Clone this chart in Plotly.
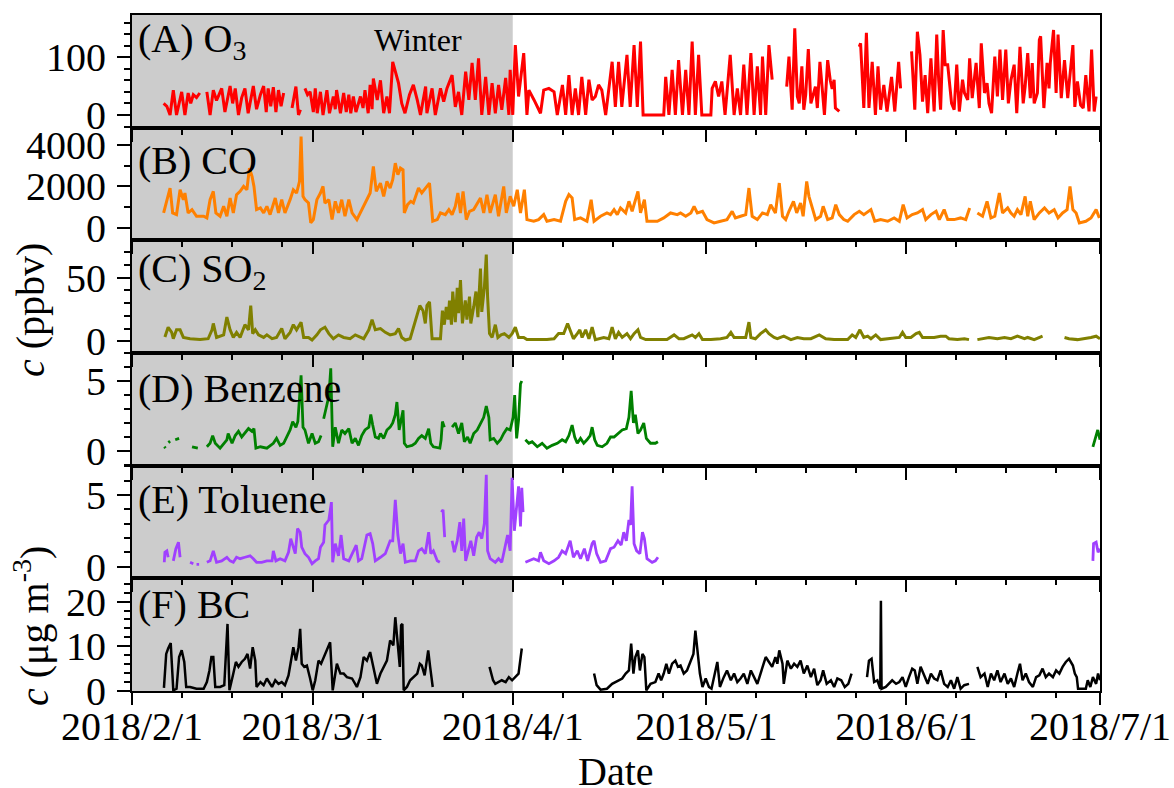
import pandas as pd
import plotly.graph_objects as go
from plotly.subplots import make_subplots

START = pd.Timestamp("2018-02-01")
END = pd.Timestamp("2018-07-01")
WINTER_END = pd.Timestamp("2018-04-01")

# (days since 2018-02-01, concentration); None marks missing data
o3 = [(4.9,20),(5.4,15),(5.9,0),(6.4,43),(6.9,0),(7.7,40),(8.2,0),(8.7,38),(9.1,20),(9.5,35),(10.0,30),(10.5,38),
      (11.0,None),
      (11.6,40),(12.1,0),(12.6,43),(13.1,25),(13.9,46),(14.4,5),(15.2,50),(15.6,20),(16.0,46),(16.5,0),(17.0,30),(17.5,46),
      (18.0,3),(18.8,50),(19.3,10),(19.9,35),(20.4,50),(20.8,5),(21.1,46),(21.5,15),(21.9,48),(22.3,5),(22.7,43),(23.1,15),(23.5,38),
      (24.0,None),
      (24.8,12),(25.4,49),(25.8,0),(26.1,9),
      (26.5,None),
      (26.8,46),(27.2,35),(27.6,40),(28.1,5),(28.4,46),(28.7,3),(29.2,40),(29.6,0),(30.2,43),(30.6,3),(31.2,32),(31.5,10),
      (31.7,43),(32.3,3),(32.8,38),(33.2,5),(33.6,35),(33.9,3),(34.3,32),(34.7,5),(35.4,32),(35.8,12),(36.1,43),(36.6,3),
      (36.9,52),(37.2,10),(37.4,63),(38.0,26),(38.5,60),(39.0,3),(39.5,32),(39.9,3),(40.4,92),(41.3,55),(41.8,20),(42.3,3),
      (43.0,35),(43.6,52),(44.2,26),(44.7,0),(45.5,49),(45.7,3),(46.5,46),(47.0,0),(47.8,46),(48.3,23),(48.8,46),(49.6,69),
      (50.1,14),(50.6,40),(51.1,0),(51.7,75),(52.2,26),(52.7,90),(53.2,26),(53.7,98),(54.2,0),(54.8,66),(55.3,0),(55.8,55),
      (56.3,3),(56.8,52),(57.3,9),(57.9,64),(58.4,0),(58.6,78),(59.0,0),(59.4,121),(59.9,32),(60.7,107),(61.2,0),(61.5,43),
      (62.3,26),(62.8,14),(63.3,3),(63.8,43),(64.6,46),(65.4,40),(65.9,0),(66.7,52),(67.2,0),(67.7,69),(68.2,0),(68.7,46),
      (69.2,0),(69.7,66),(70.3,0),(70.8,61),(71.3,26),(71.8,32),(72.3,52),(72.8,43),(73.4,0),(74.4,92),(74.9,14),(75.4,92),
      (75.9,14),(76.7,104),(77.2,14),(77.8,121),(78.3,14),(78.8,127),(79.2,0),(82.4,0),(82.7,66),(83.2,0),(83.7,78),(84.2,0),
      (84.7,95),(85.3,0),(85.8,78),(86.3,0),(86.8,127),(87.3,0),(87.8,104),(88.3,0),(89.7,0),(89.9,46),(90.4,58),(90.9,32),
      (91.4,58),(91.9,0),(92.7,104),(93.3,0),(93.8,46),(94.3,0),(94.8,87),(95.3,0),(95.9,107),(96.4,0),(96.9,84),(97.4,0),
      (97.7,101),(98.2,0),(98.7,121),(99.2,61),
      (99.6,None),
      (101.45,49),(101.8,101),(102.3,9),(102.7,150),(103.1,32),(103.4,20),(103.8,84),(104.1,9),(104.4,35),(104.8,114),
      (105.2,20),(105.9,49),(106.2,12),(106.6,92),(107.0,40),(107.3,0),(107.8,95),(108.2,60),(108.5,45),(108.8,61),(109.0,12),(109.6,6),
      (110.5,None),
      (112.7,118),(112.9,124),(113.4,12),(113.8,142),(114.2,12),(114.7,92),(115.2,0),(115.6,84),(116.0,9),(116.5,52),
      (117.0,6),(117.7,66),(118.2,6),(118.8,92),(119.1,46),
      (119.8,None),
      (120.8,110),(121.3,9),(121.7,144),(122.1,104),(122.5,23),(122.9,69),(123.3,3),(123.8,98),(124.3,6),(124.7,139),
      (125.0,60),(125.3,9),(125.7,147),(126.0,87),(126.4,87),(127.0,20),(127.4,9),(127.8,87),(128.2,6),(128.7,61),(129.0,38),
      (129.5,26),(129.8,98),(130.2,29),(130.8,90),(131.3,12),(131.6,124),(132.1,38),(132.5,55),(132.8,20),(133.2,3),(133.7,101),
      (134.1,32),(134.5,113),(134.9,26),(135.4,113),(135.8,20),(136.2,60),(136.7,87),(137.1,3),(137.3,46),(137.6,118),(138.1,20),
      (138.4,49),(138.8,107),(139.2,29),(139.5,90),(139.8,20),(140.3,38),(140.6,130),(140.8,136),(141.3,12),(141.8,90),(142.1,46),
      (142.3,90),(142.8,147),(143.2,38),(143.5,139),(144.0,29),(144.5,95),(145.0,29),(145.4,78),(145.8,121),(146.1,14),(146.5,58),
      (147.0,17),(147.4,12),(147.8,69),(148.3,6),(148.7,113),(149.1,6),(149.4,32)]

co = [(4.9,720),(5.4,1360),(5.9,1920),(6.3,720),(6.9,640),(7.45,1840),(7.96,1360),(8.2,1680),(8.7,720),(9.3,880),(10.0,560),
      (11.1,560),(11.6,480),(12.1,1360),(12.6,1760),(13.0,720),(13.65,560),(14.2,1040),(14.7,560),(15.2,1440),(15.7,720),
      (16.2,1600),(16.75,1760),(17.3,2000),(17.8,1840),(18.2,2880),(18.6,2480),(18.9,2000),(19.3,880),(19.9,960),(20.4,720),
      (20.9,1040),(21.4,640),(22.2,1440),(22.7,720),(23.2,1360),(23.7,720),(24.5,1360),(25.0,1840),(25.5,1680),(25.96,2240),
      (26.2,4400),(26.5,1520),(26.8,1360),(27.35,1200),(27.7,240),(28.1,400),(28.65,1360),(29.2,1680),(29.6,2000),(29.9,1200),
      (30.5,1360),(31.0,400),(31.5,1280),(32.0,720),(32.5,1360),(33.0,560),(33.6,1360),(34.1,720),(34.85,400),(35.6,880),
      (36.4,1440),(36.9,1680),(37.4,2960),(37.85,1760),(38.5,2160),(39.0,1520),(39.5,2240),(40.0,1920),(40.4,2320),(40.8,3120),
      (41.2,2560),(41.6,2880),(42.0,2800),(42.2,720),(42.7,1120),(43.2,1280),(43.6,1200),(44.4,1920),(44.9,1680),(45.45,1920),
      (46.1,2160),(46.6,320),(47.3,400),(47.8,720),(48.55,640),(49.1,880),(49.6,640),(50.1,1040),(50.5,1680),(50.9,720),
      (51.3,1760),(51.8,400),(52.3,800),(52.95,880),(53.5,1200),(54.0,1440),(54.5,720),(55.0,1600),(55.5,720),(56.3,1600),
      (56.8,560),(57.6,2000),(58.0,720),(58.6,1520),(59.15,1040),(59.7,1840),(60.2,720),(60.8,1840),(61.2,400),(62.25,320),
      (63.0,400),(63.8,640),(64.3,320),(65.4,400),(66.4,320),(67.2,1280),(67.7,1600),(68.2,1440),(68.6,400),(69.5,480),
      (70.5,320),(71.15,1360),(71.6,320),(72.6,560),(73.6,720),(74.15,640),(74.7,880),(75.2,640),(75.7,960),(76.5,720),
      (77.0,1280),(77.5,800),(78.4,1760),(78.8,720),(79.4,1360),(79.8,320),(81.4,320),(82.4,480),(83.45,720),(84.5,640),
      (85.0,720),(85.8,560),(86.6,720),(87.1,1040),(87.6,720),(88.4,800),(89.1,400),(90.2,240),(91.2,320),(92.2,400),
      (93.0,800),(93.5,480),(94.3,560),(95.1,640),(95.6,1920),(96.1,560),(96.9,400),(97.7,720),(98.45,640),(98.97,1120),
      (99.7,720),(100.3,2160),(100.8,560),(101.3,400),(101.8,800),(102.5,1280),(103.0,720),(103.6,1200),(104.0,560),
      (104.55,2240),(104.9,1520),(105.4,1040),(105.95,400),(106.7,560),(107.1,1040),(107.8,400),(108.5,480),(109.05,1120),
      (109.6,640),(110.3,400),(110.9,320),(111.9,640),(112.7,800),(113.4,640),(114.5,880),(115.1,320),(116.0,400),(117.1,320),
      (118.1,480),(118.9,320),(119.5,1120),(120.1,480),(120.9,640),(121.7,720),(122.5,880),(123.0,400),(123.8,640),(124.6,800),
      (125.1,400),(125.85,880),(126.4,400),(127.4,400),(128.4,480),(129.2,400),(129.8,960),
      (130.3,None),
      (131.0,720),(131.8,560),(132.5,1280),(133.1,480),(133.7,560),(134.4,1680),(134.9,720),(135.7,960),(136.2,720),
      (136.7,560),(137.2,880),(137.75,640),(138.4,1520),(138.8,560),(139.2,1280),(139.8,400),(140.6,720),(141.4,960),
      (142.1,720),(142.9,880),(143.5,480),(144.2,720),(144.9,880),(145.35,2000),(145.8,880),(146.3,720),(146.8,240),
      (147.8,320),(148.6,480),(149.4,880),(149.9,480)]

so2 = [(5.1,3.4),(5.6,11),(6.15,7),(6.4,2),(6.9,9),(7.45,9),(7.96,3),(9.0,2),(10.55,1.3),(11.8,2),(12.4,9),(12.6,14),
       (13.1,3),(14.2,5),(14.7,19),(15.2,9),(15.7,3),(16.2,7),(16.75,3),(17.5,13),(18.05,9),(18.4,28),(18.7,6),(19.1,9),
       (19.6,5),(20.4,3),(20.9,5),(21.7,2),(22.4,3),(23.2,10),(23.7,2),(24.5,7),(25.0,13),(25.5,9),(26.2,15),(26.6,3),
       (27.35,3),(27.9,1),(28.65,5),(29.2,9),(29.9,11),(30.5,6),(31.2,2),(32.0,5),(32.8,3),(33.8,2),(34.6,5),(35.4,3),
       (35.9,2),(36.7,9),(37.2,17),(37.7,9),(38.5,10),(39.25,7),(40.0,5),(40.8,6),(41.3,10),(41.8,3),(42.35,1),(43.1,2),
       (43.6,11),(44.2,22),(44.6,28),(45.1,24),(45.45,14),(45.7,28),(46.1,31),(46.5,2),(47.8,2),(48.1,24),(48.4,13),
       (48.7,27),(49.0,17),(49.2,32),(49.5,13),(49.7,39),(50.1,15),(50.4,42),(50.6,22),(50.9,48),(51.2,14),(51.65,32),
       (51.9,17),(52.3,35),(52.5,14),(52.95,27),(53.3,39),(53.6,19),(54.0,57),(54.2,23),(54.6,42),(54.9,68),(55.1,35),
       (55.4,6),(55.8,3),(56.3,13),(56.7,3),(57.2,5),(57.7,6),(58.4,3),(58.9,6),(59.4,11),(59.9,3),(60.7,3),(61.2,1.3),
       (64.3,1.3),(65.4,2),(66.1,6),(66.9,6),(67.5,14),(67.9,9),(68.4,2),(69.0,6),(69.4,9),(69.75,3),(70.3,9),(70.8,2),
       (71.3,11),(71.8,1.3),(73.1,3),(73.9,2),(74.4,11),(74.9,2),(75.4,7),(75.96,3),(76.7,6),(77.25,2),(77.8,6),(78.4,9),
       (78.8,3),(79.6,1.3),(82.9,1.3),(84.0,5),(84.75,2),(85.5,2),(86.3,4),(86.8,5),(87.3,3),(87.85,6),(88.4,1.3),
       (89.7,1.3),(91.2,2),(92.2,3),(92.8,7),(93.3,3),(94.3,3),(95.1,3),(95.6,15),(95.9,3),(96.6,2),(97.4,6),(98.2,9),
       (98.7,6),(99.5,3),(100.0,2),(101.0,4),(102.1,1.3),(103.1,3),(104.1,2),(105.2,2),(106.5,5),(107.5,2),(108.8,1.3),
       (110.9,1.3),(111.6,5),(112.15,3),(112.8,9),(113.4,3),(114.0,4),(114.5,2),(115.25,5),(116.0,1.3),(117.1,2),(118.1,3),
       (118.9,3),(119.4,7),(119.9,3),(120.7,3),(121.5,6),(122.0,7),(122.5,3),(123.3,3),(124.3,3),(125.3,4),(126.1,4),
       (126.6,2),(127.9,1.3),(129.0,2),(129.7,1.3),
       (130.2,None),
       (131.0,1.3),(132.1,2),(132.8,3),(134.1,2),(135.2,3),(136.2,2),(137.2,4),(138.3,2),(138.8,3),(139.8,1.3),(140.6,3),(141.1,4),
       (142.0,None),
       (144.5,3),(145.2,2),(146.5,1.3),(147.8,2),(148.6,3),(149.4,4),(150.0,2)]

benzene = [(5.0,0.3),(5.2,0.2),(5.4,None),(5.64,0.6),(5.9,0.7),(6.2,None),(6.7,0.8),(7.3,0.9),(8.0,None),(9.3,0.3),(10.2,0.2),
           (11.0,None),
           (11.6,0.3),(12.1,0.55),(12.5,1.1),(12.9,0.55),(13.65,0.2),(14.7,0.8),(14.9,1.25),(15.5,0.55),(16.0,1.1),(16.5,1.4),
           (17.0,1.0),(17.5,1.25),(18.05,1.6),(18.6,1.4),(18.9,1.6),(19.2,0.2),(19.9,0.3),(20.9,0.2),(21.9,0.55),(22.4,0.9),
           (22.96,0.4),(23.5,0.55),(24.1,1.1),(24.5,1.5),(24.9,2.1),(25.4,1.7),(25.7,2.1),(25.96,3.7),(26.2,5.4),(26.5,1.7),
           (26.8,1.5),(27.35,0.55),(27.9,1.25),(28.4,0.55),(28.9,0.66),(29.3,1.1),
           (29.5,None),
           (29.7,2.3),(30.1,3.2),(30.5,3.9),(30.8,5.9),(31.1,0.3),(31.5,1.7),(32.0,0.55),(32.5,1.5),(33.0,1.25),(33.6,1.6),
           (34.1,0.55),(34.6,0.9),(35.1,0.4),(35.6,1.1),(36.1,1.5),(36.7,1.7),(37.0,2.6),(37.3,1.85),(37.7,1.0),(38.2,0.9),
           (38.5,1.25),(39.0,0.9),(39.5,1.5),(40.0,1.7),(40.4,2.0),(40.8,2.6),(41.05,3.5),(41.4,1.5),(41.7,2.1),(42.0,2.9),
           (42.2,0.55),(42.6,0.3),(43.4,0.4),(43.9,0.55),(44.4,0.9),(44.9,1.1),(45.45,0.9),(45.97,1.6),(46.3,0.55),(46.7,0.3),
           (47.7,0.2),(47.9,0.8),(48.1,2.1),(48.4,1.7),
           (49.0,None),
           (49.6,1.7),(50.1,2.0),(50.6,1.25),(51.1,2.0),(51.5,0.66),(52.0,1.0),(52.4,0.55),(52.95,1.25),(53.5,1.5),(54.0,2.0),
           (54.5,2.4),(54.9,3.2),(55.3,2.4),(55.5,0.8),(56.05,0.9),(56.6,0.55),(57.1,0.8),(57.6,1.25),(58.1,1.6),(58.6,1.5),
           (59.05,2.4),(59.3,4.0),(59.6,0.9),(59.9,2.2),(60.2,4.8),(60.4,5.0),
           (60.7,None),
           (60.96,0.8),(61.5,0.55),(62.0,0.66),(62.8,0.3),(63.55,0.55),(64.3,0.2),(65.1,0.4),(65.9,0.55),(66.65,0.8),(67.2,0.66),
           (67.7,1.1),(68.2,1.85),(68.6,1.0),(69.0,0.55),(69.5,0.9),(70.0,0.55),(70.5,0.8),(71.0,1.1),(71.3,1.7),(71.7,0.8),
           (72.1,0.4),(72.85,0.3),(73.6,0.55),(74.15,1.0),(74.7,1.0),(75.3,1.25),(75.96,1.5),(76.6,1.6),(77.0,2.4),(77.35,4.3),
           (77.7,2.0),(78.0,2.6),(78.4,1.25),(78.8,1.5),(79.3,2.0),(79.7,0.9),(80.35,0.55),(81.1,0.55),(81.5,0.66),
           (82.0,None),
           (148.9,0.3),(149.4,1.0),(149.65,1.5),(150.0,0.8)]

toluene = [(5.0,0.3),(5.1,1.0),(5.4,1.1),(5.6,0.65),(6.0,None),(6.4,0.4),(6.8,1.25),(7.2,1.7),(7.45,0.65),(8.0,None),
           (9.0,0.3),(9.5,0.2),(9.8,None),(10.0,0.15),(10.4,0.15),
           (11.0,None),
           (11.6,0.3),(12.1,0.4),(12.6,1.1),(13.1,0.3),(13.9,0.4),(14.7,0.65),(15.2,0.4),(15.7,0.3),(16.2,0.65),(16.75,0.55),
           (17.5,0.65),(18.3,0.75),(18.8,0.55),(19.3,0.3),(20.1,0.3),(20.9,0.4),(21.7,0.4),(21.9,1.1),(22.3,0.4),(22.96,0.55),
           (23.7,0.4),(24.25,1.0),(24.6,1.95),(25.0,1.35),(25.3,0.9),(25.65,2.65),(26.06,2.4),(26.3,1.35),(26.8,0.9),(27.35,0.65),
           (27.9,0.2),(28.4,0.4),(28.9,0.55),(29.2,1.35),(29.7,1.7),(29.9,2.9),(30.5,3.25),(30.9,4.5),(31.1,0.3),(31.5,1.6),
           (32.0,0.75),(32.4,2.2),(32.8,0.55),(33.6,0.4),(34.1,0.9),(34.75,1.5),(35.1,0.4),(35.6,0.55),(36.4,2.2),(36.9,2.3),
           (37.3,1.6),(37.7,0.4),(38.5,0.65),(39.25,0.9),(40.0,1.8),(40.4,1.8),(40.8,4.65),(41.2,2.2),(41.6,0.9),(42.0,1.6),
           (42.35,0.3),(43.1,0.4),(43.9,0.4),(44.4,1.1),(44.9,1.25),(45.45,0.9),(45.97,2.4),(46.3,0.9),(46.7,1.1),(47.3,0.4),
           (47.7,0.3),(47.8,None),(47.93,3.8),(48.2,3.95),(48.45,2.05),
           (48.8,None),
           (49.6,1.8),(49.95,1.0),(50.4,1.8),(50.8,3.1),(51.1,1.1),(51.4,3.35),(51.7,0.4),(52.2,1.25),(52.5,1.8),(52.95,0.75),
           (53.4,2.05),(53.8,2.4),(54.2,1.95),(54.6,3.0),(54.9,6.4),(55.1,1.1),(55.5,0.55),(56.3,0.3),(56.8,0.55),(57.3,0.3),
           (57.9,1.5),(58.2,2.2),(58.6,1.1),(58.9,6.2),(59.25,2.5),(59.6,4.4),(59.9,5.6),(60.2,2.8),(60.4,5.5),(60.6,3.8),
           (60.8,None),
           (60.96,0.3),(61.5,0.4),(62.25,0.55),(63.0,0.4),(63.3,1.0),(63.8,0.4),(64.6,0.2),(65.4,0.4),(66.1,0.65),(66.65,1.1),
           (67.2,0.9),(67.9,1.8),(68.4,0.65),(69.0,1.1),(69.5,0.55),(70.1,1.25),(70.6,0.4),(71.3,1.6),(71.6,1.8),(72.0,0.9),
           (72.6,0.3),(73.4,0.4),(74.15,1.25),(74.7,1.35),(75.3,1.8),(75.8,1.5),(76.2,2.4),(76.6,1.8),(77.0,3.25),(77.25,2.9),
           (77.5,5.6),(77.8,1.6),(78.2,1.1),(78.7,0.9),(79.1,2.4),(79.4,1.95),(79.8,0.55),(80.6,0.3),(81.1,0.4),(81.5,0.65),
           (82.0,None),
           (148.9,0.4),(149.0,1.6),(149.4,1.7),(149.7,1.0),(150.0,1.25)]

bc = [(4.95,0.7),(5.3,8.3),(5.6,9.5),(6.0,10.7),(6.4,0.15),(6.9,0.5),(7.3,7.6),(7.7,9.1),(8.1,6.5),(8.4,0.9),(9.0,0.9),
      (10.0,0.5),(11.1,0.5),(11.6,2.0),(12.0,4.6),(12.3,7.6),(12.6,7.6),(12.9,0.9),(13.65,0.9),(14.3,1.3),(14.8,15.0),
      (15.1,0.15),(15.7,3.9),(16.1,6.5),(16.5,5.4),(17.0,6.5),(17.5,7.2),(17.9,8.3),(18.3,5.0),(18.7,9.8),(19.1,6.8),
      (19.3,0.9),(19.9,2.0),(20.4,1.3),(20.9,2.8),(21.7,0.9),(22.2,2.4),(22.7,1.6),(23.2,2.0),(23.7,1.3),(24.25,3.5),
      (24.6,6.1),(25.0,9.8),(25.4,6.8),(25.8,9.8),(26.06,13.9),(26.3,6.1),(26.7,5.4),(27.1,5.7),(27.6,2.8),(28.0,0.15),
      (28.4,2.4),(28.9,6.8),(29.3,6.1),(29.7,7.6),(30.2,9.1),(30.7,10.9),(31.1,0.15),(31.75,6.1),(32.3,3.9),(32.8,3.9),
      (33.3,3.1),(34.1,2.8),(34.85,0.9),(35.4,3.1),(35.9,7.6),(36.4,6.8),(36.9,8.7),(37.4,5.4),(37.95,1.6),(38.5,3.9),
      (39.0,5.4),(39.5,6.8),(40.0,11.3),(40.5,10.2),(40.8,16.5),(41.05,12.1),(41.5,5.4),(41.7,14.7),(41.9,15.0),(42.1,0.15),
      (42.6,0.9),(43.1,2.4),(43.6,3.1),(44.2,3.9),(44.6,6.1),(44.9,5.7),(45.35,3.5),(45.9,9.1),(46.2,5.4),(46.6,0.9),
      (47.0,None),
      (55.4,5.4),(55.95,2.4),(56.3,1.6),(56.8,2.0),(57.3,2.4),(57.9,2.0),(58.4,3.1),(58.9,2.4),(59.4,3.1),(59.9,3.9),(60.4,9.5),
      (61.0,None),
      (71.6,3.9),(72.0,1.3),(72.6,0.3),(73.6,0.5),(74.4,1.6),(74.9,2.0),(75.4,2.4),(75.96,2.8),(76.5,3.9),(77.0,4.6),
      (77.35,10.6),(77.7,3.9),(78.0,7.6),(78.4,9.1),(78.7,4.6),(79.1,8.3),(79.4,7.6),(79.7,0.15),(80.35,1.6),(81.1,2.0),
      (81.6,3.9),(82.0,2.4),(82.4,3.9),(82.8,6.1),(83.2,3.9),(83.7,6.1),(84.2,6.8),(84.6,5.4),(85.0,5.7),(85.5,3.9),
      (86.0,4.6),(86.6,6.8),(87.0,8.3),(87.3,13.5),(87.7,8.3),(88.0,3.9),(88.4,0.9),(88.9,2.8),(89.4,0.9),(89.8,0.5),
      (90.7,6.5),(91.1,0.9),(91.7,3.1),(92.2,4.6),(92.8,2.4),(93.3,3.9),(93.8,2.0),(94.3,2.8),(94.8,3.9),(95.35,1.6),
      (95.9,4.6),(96.4,3.1),(96.9,1.6),(97.4,3.9),(98.2,7.6),(98.7,6.5),(99.2,5.4),(99.7,7.6),(100.0,6.1),(100.3,9.1),
      (100.8,6.1),(101.0,1.6),(101.55,6.8),(102.1,5.0),(102.6,6.1),(103.1,5.4),(103.6,6.8),(104.1,3.9),(104.65,5.7),
      (105.2,3.1),(105.7,5.0),(106.2,1.3),(106.7,2.4),(107.1,4.6),(107.65,1.6),(108.3,2.4),(108.8,0.9),(109.3,2.8),
      (109.9,2.4),(110.45,0.9),(111.0,1.6),(111.5,3.9),
      (112.0,None),
      (113.9,3.1),(114.2,6.8),(114.6,7.2),(115.0,2.0),(115.5,2.4),(115.95,0.5),(116.05,20.2),(116.15,0.5),(116.8,0.9),
      (117.3,1.6),(117.8,2.4),(118.4,1.6),(118.9,2.0),(119.4,3.1),(119.9,0.9),(120.4,3.1),(120.9,5.0),(121.3,4.6),
      (121.7,1.6),(122.2,5.4),(122.75,3.5),(123.3,1.6),(123.8,3.9),(124.3,2.8),(124.8,2.4),(125.3,4.6),(125.85,1.6),
      (126.4,0.9),(126.9,2.4),(127.4,0.5),(127.9,3.1),(128.4,0.5),(128.96,1.3),(129.7,1.6),
      (130.3,None),
      (131.0,5.4),(131.5,3.1),(132.1,3.9),(132.6,0.9),(133.1,3.9),(133.6,2.4),(134.1,4.6),(134.6,2.0),(135.2,3.9),
      (135.7,1.6),(136.2,2.8),(136.7,0.9),(137.2,3.9),(137.6,6.1),(138.0,2.4),(138.5,3.9),(139.0,2.0),(139.6,0.9),
      (140.1,3.1),(140.6,3.5),(141.1,5.0),(141.6,3.1),(142.1,3.9),(142.7,3.1),(143.2,4.6),(143.7,3.9),(144.2,5.4),
      (144.7,6.5),(145.2,7.2),(145.8,5.7),(146.1,3.9),(146.4,3.1),(146.6,0.5),(147.8,0.5),(148.1,2.4),(148.5,0.9),
      (148.9,3.1),(149.4,1.6),(149.7,3.9),(150.0,2.4)]

# label, series, colour, line width, y range, major ticks, minor tick step
panels = [
    ("(A) O<sub>3</sub>", o3, "#ff0000", 3.0, [-22, 173], [0, 100], 20),
    ("(B) CO", co, "#ff8000", 3.0, [-600, 4830], [0, 2000, 4000], 1000),
    ("(C) SO<sub>2</sub>", so2, "#808000", 3.0, [-9.2, 79.2], [0, 50], 10),
    ("(D) Benzene", benzene, "#008000", 2.8, [-1.05, 7.0], [0, 5], 1),
    ("(E) Toluene", toluene, "#a040ff", 2.8, [-0.82, 7.04], [0, 5], 1),
    ("(F) BC", bc, "#000000", 2.5, [0, 25.2], [0, 10, 20], 2),
]

W, H = 1174, 788
ML, MR, MT, MB = 132, 74, 15, 97
FONT = "Liberation Serif"


def xp(px):
    return (px - ML) / (W - ML - MR)


def yp(py):
    return (H - MB - py) / (H - MT - MB)


months = list(pd.date_range(START, END, freq="MS"))
month_text = [f"{d.year}/{d.month}/{d.day}" for d in months]
minor_dates = [m + pd.Timedelta(days=7.75 * k) for m in months[:-1] for k in (1, 2, 3)]

fig = make_subplots(rows=6, cols=1, vertical_spacing=0)

for i, (label, series, color, lw, yrange, yticks, ydminor) in enumerate(panels, start=1):
    days = [d for d, _ in series]
    vals = [v for _, v in series]
    dates = [START + pd.Timedelta(days=d) for d in days]
    fig.add_trace(
        go.Scatter(x=dates, y=vals, mode="lines", line=dict(color=color, width=lw),
                   connectgaps=False, showlegend=False, hoverinfo="skip"),
        row=i, col=1,
    )
    fig.update_xaxes(
        row=i, col=1, type="date", range=[START, END],
        showline=True, linecolor="black", linewidth=2, mirror=True,
        ticks="outside", ticklen=12, tickwidth=2, tickcolor="black",
        tickmode="array", tickvals=months, ticktext=month_text,
        showticklabels=(i == 6), ticklabelstandoff=-13,
        showgrid=False, zeroline=False,
        tickfont=dict(family=FONT, size=40, color="black"),
        minor=dict(tickmode="array", tickvals=minor_dates, ticks="outside",
                   ticklen=5, tickwidth=2, tickcolor="black", showgrid=False),
    )
    fig.update_yaxes(
        row=i, col=1, range=yrange,
        showline=True, linecolor="black", linewidth=2, mirror=True,
        ticks="outside", ticklen=13, tickwidth=2, tickcolor="black",
        tickmode="array", tickvals=yticks, ticklabelstandoff=3,
        showgrid=False, zeroline=False,
        tickfont=dict(family=FONT, size=40, color="black"),
        minor=dict(dtick=ydminor, tick0=0, ticks="outside", ticklen=6,
                   tickwidth=2, tickcolor="black", showgrid=False),
    )

# winter shading across every panel
fig.add_shape(type="rect", xref="x", yref="paper", x0=START, x1=WINTER_END, y0=0, y1=1,
              fillcolor="#cccccc", line_width=0, layer="below")

label_y = [41, 160, 270.5, 388, 499, 604]
annotations = []
for (label, *_), ly in zip(panels, label_y):
    annotations.append(dict(text=label, xref="paper", yref="paper", x=xp(136), y=yp(ly),
                            xanchor="left", yanchor="middle", showarrow=False,
                            font=dict(family=FONT, size=40, color="black")))
annotations += [
    dict(text="Winter", xref="paper", yref="paper", x=xp(418), y=yp(40),
         xanchor="center", yanchor="middle", showarrow=False,
         font=dict(family=FONT, size=32, color="black")),
    dict(text="Date", xref="paper", yref="paper", x=xp(616), y=yp(771),
         xanchor="center", yanchor="middle", showarrow=False,
         font=dict(family=FONT, size=40, color="black")),
    dict(text="<i>c</i> (ppbv)", xref="paper", yref="paper", x=xp(31), y=yp(310),
         xanchor="center", yanchor="middle", textangle=-90, showarrow=False,
         font=dict(family=FONT, size=40, color="black")),
    dict(text="<i>c</i> (μg m<sup>-3</sup>)", xref="paper", yref="paper", x=xp(31), y=yp(626),
         xanchor="center", yanchor="middle", textangle=-90, showarrow=False,
         font=dict(family=FONT, size=40, color="black")),
]

fig.update_layout(
    width=W, height=H, template="none",
    margin=dict(l=ML, r=MR, t=MT, b=MB),
    paper_bgcolor="white", plot_bgcolor="rgba(0,0,0,0)",
    annotations=annotations, showlegend=False,
    font=dict(family=FONT, size=40, color="black"),
)

fig.write_html("out.html")
